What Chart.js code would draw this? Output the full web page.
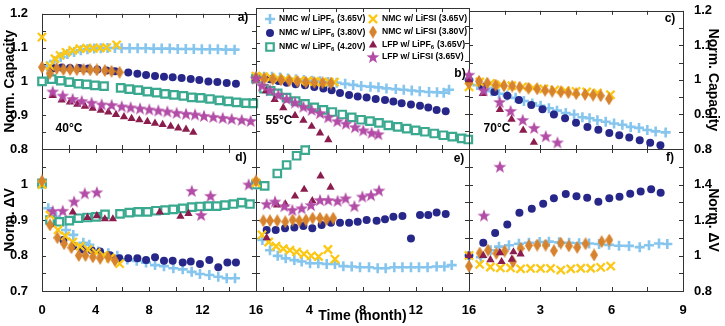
<!DOCTYPE html>
<html>
<head>
<meta charset="utf-8">
<script src="https://cdn.jsdelivr.net/npm/chart.js@4.4.1/dist/chart.umd.min.js"></script>
<style>
  body { margin: 0; background: #fff; }
  #fig { position: relative; width: 725px; height: 326px; overflow: hidden; font-family: "Liberation Sans", Arial, sans-serif; }
  #fig canvas { position: absolute; left: 0; top: 0; }
  .tag { position: absolute; transform: translate(-50%, -50%); font-weight: bold; font-size: 12px; color: #000; white-space: nowrap; }
</style>
</head>
<body>
<div id="fig">
  <canvas id="pa" width="725" height="326"></canvas>
  <canvas id="pb" width="725" height="326"></canvas>
  <canvas id="pc" width="725" height="326"></canvas>
  <canvas id="pd" width="725" height="326"></canvas>
  <canvas id="pe" width="725" height="326"></canvas>
  <canvas id="pf" width="725" height="326"></canvas>
  <div class="tag" style="left:243px;top:17px">a)</div>
  <div class="tag" style="left:460px;top:73px">b)</div>
  <div class="tag" style="left:670px;top:18px">c)</div>
  <div class="tag" style="left:241px;top:157px">d)</div>
  <div class="tag" style="left:459px;top:158px">e)</div>
  <div class="tag" style="left:670px;top:157px">f)</div>
  <div class="tag" style="left:69px;top:128px">40°C</div>
  <div class="tag" style="left:279px;top:120px">55°C</div>
  <div class="tag" style="left:497px;top:128px">70°C</div>
</div>
<script>
// series keys, in legend order
const SERIES = ['pf365', 'pf380', 'pf420', 'fsi365', 'fsi380', 'lfpPF', 'lfpFSI'];
const LABELS = {
  pf365: 'NMC w/ LiPF6 (3.65V)',
  pf380: 'NMC w/ LiPF6 (3.80V)',
  pf420: 'NMC w/ LiPF6 (4.20V)',
  fsi365: 'NMC w/ LiFSI (3.65V)',
  fsi380: 'NMC w/ LiFSI (3.80V)',
  lfpPF: 'LFP w/ LiPF6 (3.65V)',
  lfpFSI: 'LFP w/ LiFSI (3.65V)'
};

// ---- a) capacity, 40°C  [month, value]
const a_pf365 = [[0.4,1.045],[0.9,1.06],[1.4,1.072],[1.9,1.081],[2.4,1.087],[2.9,1.092],[3.4,1.095],[3.9,1.097],[4.4,1.098],[4.9,1.099],[5.45,1.099],[5.95,1.098],[6.55,1.098],[7.15,1.098],[7.75,1.098],[8.35,1.097],[8.95,1.097],[9.55,1.097],[10.15,1.096],[10.75,1.096],[11.35,1.096],[11.95,1.095],[12.55,1.095],[13.15,1.095],[13.75,1.094],[14.4,1.094]];
const a_pf380 = [[0.85,1.039],[1.47,1.041],[2.09,1.04],[2.79,1.04],[3.46,1.038],[4.14,1.035],[4.83,1.032],[5.46,1.03],[6.45,1.026],[7.13,1.023],[7.78,1.019],[8.45,1.016],[9.12,1.014],[9.77,1.012],[10.44,1.01],[11.12,1.007],[11.76,1.004],[12.44,1.0],[13.11,0.998],[13.81,0.995],[14.5,0.993]];
const a_pf420 = [[0,1.0],[0.72,1.007],[1.4,1.002],[2.04,0.998],[2.72,0.993],[3.34,0.991],[3.96,0.988],[4.64,0.986],[5.88,0.981],[6.53,0.977],[7.2,0.974],[7.88,0.97],[8.57,0.967],[9.2,0.963],[9.87,0.96],[10.57,0.957],[11.19,0.953],[11.86,0.951],[12.56,0.948],[13.26,0.944],[13.93,0.941],[14.55,0.938],[15.25,0.936],[15.8,0.935]];
const a_fsi365 = [[0,1.131],[0.6,1.046],[0.97,1.067],[1.35,1.077],[1.8,1.086],[2.3,1.092],[2.84,1.097],[3.34,1.098],[3.84,1.098],[4.34,1.099],[4.84,1.1],[5.58,1.108]];
const a_fsi380 = [[0,1.042],[0.58,1.024],[1.1,1.038],[1.6,1.035],[2.1,1.035],[2.6,1.035],[3.1,1.035],[3.6,1.034],[4.1,1.034],[4.7,1.032],[5.2,1.03],[5.8,1.027]];
const a_lfpPF = [[0.8,0.958],[1.47,0.945],[2.09,0.939],[2.64,0.932],[3.21,0.926],[3.79,0.92],[4.39,0.914],[4.96,0.909],[5.53,0.902],[6.13,0.895],[6.7,0.89],[7.28,0.886],[7.88,0.881],[8.45,0.876],[9.02,0.872],[9.62,0.867],[10.19,0.862],[10.77,0.858],[11.31,0.849]];
const a_lfpFSI = [[0.8,0.97],[1.55,0.958],[2.29,0.948],[2.97,0.942],[3.71,0.937],[4.46,0.932],[5.21,0.93],[5.96,0.926],[6.63,0.923],[7.33,0.92],[8.02,0.917],[8.7,0.914],[9.37,0.911],[10.07,0.907],[10.77,0.904],[11.44,0.902],[12.11,0.898],[12.81,0.895],[13.51,0.892],[14.18,0.889],[14.93,0.886],[15.6,0.883]];

// ---- b) capacity, 55°C
const b_pf365 = [[0,1.005],[0.6,1.005],[1.2,1.005],[1.8,1.003],[2.4,1.0],[3.0,0.998],[3.6,0.996],[4.2,0.994],[4.8,0.992],[5.4,0.99],[6.06,0.988],[6.7,0.985],[7.3,0.982],[7.9,0.979],[8.6,0.977],[9.2,0.975],[9.8,0.972],[10.5,0.97],[11.1,0.968],[11.7,0.966],[12.3,0.964],[13.0,0.962],[13.6,0.961],[14.1,0.96],[14.5,0.968]];
const b_pf380 = [[0,1.0],[1.05,0.998],[1.68,0.993],[2.3,0.988],[2.98,0.984],[3.68,0.981],[4.38,0.976],[5.06,0.972],[5.68,0.967],[6.31,0.959],[6.99,0.953],[7.64,0.949],[8.31,0.946],[8.99,0.942],[9.69,0.939],[10.32,0.935],[10.94,0.93],[11.64,0.926],[12.32,0.923],[12.94,0.918],[13.57,0.911],[14.25,0.907]];
const b_pf420 = [[0,1.0],[0.6,0.971],[1.1,0.965],[1.63,0.958],[2.3,0.946],[2.98,0.936],[3.68,0.928],[4.38,0.918],[5.06,0.911],[5.73,0.905],[6.48,0.898],[7.19,0.89],[7.89,0.883],[8.56,0.879],[9.24,0.874],[9.94,0.867],[10.64,0.863],[11.32,0.858],[11.99,0.853],[12.69,0.849],[13.39,0.844],[14.07,0.839],[14.75,0.835],[15.45,0.83],[15.95,0.827]];
const b_fsi365 = [[0,1.007],[0.55,1.005],[1.1,1.003],[1.65,1.0],[2.2,0.998],[2.75,0.996],[3.3,0.994],[3.85,0.993],[4.4,0.992],[4.95,0.99],[5.5,0.99],[5.9,0.99]];
const b_fsi380 = [[0,1.003],[0.62,1.0],[1.25,0.998],[1.88,0.996],[2.5,0.994],[3.12,0.992],[3.75,0.99],[4.38,0.989],[5.0,0.988],[5.62,0.987]];
const b_lfpPF = [[0,1.0],[0.75,0.965],[1.4,0.94],[2.05,0.917],[2.93,0.895],[3.56,0.881],[4.18,0.864],[4.81,0.845],[5.43,0.826]];
const b_lfpFSI = [[0,1.0],[0.45,0.98],[1.05,0.967],[1.68,0.954],[2.3,0.942],[2.93,0.932],[3.56,0.92],[4.18,0.911],[4.81,0.902],[5.43,0.89],[6.11,0.879],[6.76,0.872],[7.44,0.862],[8.06,0.853],[8.69,0.846],[9.19,0.842]];

// ---- c) capacity, 70°C
const c_pf365 = [[0,1.0],[0.35,0.985],[0.7,0.975],[0.95,0.967],[1.26,0.96],[1.61,0.955],[1.96,0.948],[2.31,0.939],[2.66,0.932],[3.01,0.925],[3.36,0.918],[3.7,0.911],[4.07,0.904],[4.42,0.9],[4.77,0.892],[5.07,0.889],[5.4,0.883],[5.75,0.879],[6.1,0.874],[6.45,0.87],[6.8,0.864],[7.15,0.861],[7.5,0.855],[7.85,0.851],[8.27,0.848]];
const c_pf380 = [[0,1.0],[0.56,0.98],[1.07,0.965],[1.61,0.954],[2.1,0.942],[2.62,0.927],[3.09,0.915],[3.57,0.9],[4.04,0.889],[4.5,0.876],[4.98,0.864],[5.44,0.856],[5.9,0.846],[6.32,0.84],[6.74,0.833],[7.18,0.825],[7.62,0.818],[8.05,0.811]];
const c_fsi365 = [[0,0.98],[0.45,0.994],[0.9,0.99],[1.35,0.986],[1.8,0.983],[2.25,0.98],[2.7,0.977],[3.15,0.974],[3.6,0.971],[4.05,0.969],[4.5,0.967],[4.95,0.965],[5.4,0.962],[5.95,0.957]];
const c_fsi380 = [[0,0.99],[0.42,0.996],[0.77,0.991],[1.12,0.985],[1.47,0.983],[1.82,0.982],[2.13,0.979],[2.5,0.976],[2.87,0.974],[3.2,0.97],[3.5,0.967],[3.86,0.965],[4.18,0.963],[4.51,0.96],[4.88,0.958],[5.22,0.956],[5.54,0.954],[5.89,0.945]];
const c_lfpPF = [[0,1.0],[0.58,0.96],[1.3,0.914],[1.79,0.886],[2.28,0.854],[2.73,0.819]];
const c_lfpFSI = [[0,1.015],[0.62,0.97],[1.29,0.936],[1.75,0.91],[2.26,0.884],[2.74,0.861],[3.23,0.837],[3.72,0.819]];

// ---- d) ΔV, 40°C
const d_pf365 = [[0,1.0],[0.47,0.933],[1.05,0.909],[1.79,0.872],[2.34,0.858],[3.09,0.836],[3.54,0.83],[4.21,0.811],[4.96,0.806],[5.63,0.799],[6.38,0.789],[7.08,0.785],[7.78,0.78],[8.45,0.773],[9.12,0.77],[9.82,0.764],[10.52,0.761],[11.19,0.754],[11.81,0.748],[12.51,0.745],[13.18,0.74],[13.81,0.736],[14.43,0.736]];
const d_pf380 = [[0.72,0.891],[1.6,0.844],[2.34,0.827],[3.04,0.817],[3.71,0.815],[4.34,0.811],[5.08,0.801],[5.78,0.792],[6.45,0.792],[7.13,0.792],[7.78,0.787],[8.45,0.795],[9.12,0.785],[9.77,0.785],[10.52,0.78],[11.12,0.783],[11.81,0.776],[12.51,0.787],[13.18,0.767],[13.86,0.78],[14.5,0.78]];
const d_pf420 = [[0,1.003],[0.6,0.9],[1.3,0.895],[2.04,0.898],[2.72,0.905],[3.39,0.907],[4.04,0.909],[4.71,0.916],[5.83,0.917],[6.53,0.921],[7.2,0.923],[7.88,0.923],[8.52,0.926],[9.2,0.928],[9.82,0.93],[10.52,0.933],[11.19,0.936],[11.81,0.938],[12.44,0.939],[13.06,0.939],[13.68,0.942],[14.31,0.945],[14.93,0.949],[15.55,0.945]];
const d_fsi365 = [[0,1.0],[0.6,0.914],[1.2,0.872],[1.75,0.855],[2.3,0.838],[2.85,0.826],[3.45,0.817],[4.05,0.808],[4.6,0.8],[5.1,0.793],[5.8,0.777]];
const d_fsi380 = [[0,1.01],[0.6,0.886],[1.15,0.85],[1.65,0.833],[2.2,0.822],[2.75,0.8],[3.25,0.8],[3.8,0.796],[4.35,0.792],[4.95,0.795],[5.45,0.786]];
const d_lfpPF = [[2.3,0.922],[3.4,0.907],[4.1,0.912],[4.7,0.903],[5.3,0.903],[8.8,0.922],[10.35,0.91],[10.95,0.918]];
const d_lfpFSI = [[0.8,0.925],[1.55,0.926],[2.4,0.952],[3.2,0.975],[4.1,0.978],[11.2,0.982],[11.9,0.914],[12.6,0.968],[15.45,1.0]];

// ---- e) ΔV, 55°C
const e_pf365 = [[0,1.0],[0.48,0.844],[1.05,0.815],[1.63,0.799],[2.23,0.792],[2.88,0.787],[3.43,0.783],[4.06,0.778],[4.68,0.778],[5.31,0.776],[5.93,0.776],[6.56,0.77],[7.19,0.769],[7.81,0.767],[8.49,0.767],[9.14,0.764],[9.74,0.764],[10.39,0.767],[11.0,0.767],[11.64,0.767],[12.24,0.767],[12.89,0.767],[13.57,0.769],[14.15,0.769],[14.7,0.773]];
const e_pf380 = [[0,1.0],[0.8,0.872],[1.48,0.872],[2.18,0.877],[2.88,0.879],[3.56,0.883],[4.23,0.877],[4.93,0.886],[5.63,0.892],[6.31,0.892],[6.99,0.892],[7.64,0.895],[8.31,0.9],[9.06,0.898],[9.69,0.902],[10.32,0.909],[11.0,0.911],[11.64,0.848],[12.32,0.914],[12.94,0.914],[13.57,0.921],[14.25,0.917]];
const e_pf420 = [[0,1.0],[0.65,0.996],[1.6,1.031],[2.3,1.055],[3.05,1.081],[3.7,1.097]];
const e_fsi365 = [[0,1.005],[0.45,0.858],[0.95,0.838],[1.5,0.826],[2.05,0.819],[2.55,0.815],[3.05,0.81],[3.6,0.804],[4.15,0.799],[4.7,0.797],[5.4,0.817],[5.93,0.79]];
const e_fsi380 = [[0,1.01],[0.55,0.898],[1.05,0.898],[1.6,0.898],[2.2,0.895],[2.75,0.9],[3.25,0.898],[3.75,0.9],[4.25,0.905],[4.8,0.905],[5.3,0.902],[5.8,0.905]];
const e_lfpPF = [[0.8,0.85],[1.58,0.942],[2.2,0.945],[2.93,0.967],[3.62,0.986],[4.23,0.954],[4.85,1.024],[5.6,0.992]];
const e_lfpFSI = [[0.8,0.945],[1.43,0.952],[2.13,0.939],[2.73,0.928],[3.43,0.933],[4.13,0.942],[4.81,0.956],[5.43,0.956],[6.13,0.954],[6.73,0.961],[7.39,0.939],[7.99,0.966],[8.64,0.97],[9.24,0.983]];

// ---- f) ΔV, 70°C
const f_pf365 = [[0,1.0],[0.5,0.99],[0.91,1.03],[1.26,1.05],[1.68,1.058],[2.1,1.066],[2.52,1.072],[2.97,1.076],[3.36,1.078],[3.79,1.074],[4.21,1.072],[4.63,1.069],[5.05,1.068],[5.47,1.065],[5.89,1.06],[6.31,1.055],[6.73,1.054],[7.18,1.047],[7.57,1.058],[7.99,1.068],[8.34,1.065]];
const f_pf380 = [[0,1.0],[0.6,1.072],[1.1,1.127],[1.61,1.175],[2.12,1.241],[2.64,1.263],[3.12,1.292],[3.57,1.322],[4.07,1.346],[4.52,1.334],[4.97,1.325],[5.44,1.303],[5.9,1.322],[6.33,1.331],[6.78,1.348],[7.22,1.36],[7.66,1.373],[8.06,1.354]];
const f_fsi365 = [[0,1.0],[0.45,0.95],[0.9,0.935],[1.32,0.93],[1.75,0.93],[2.17,0.925],[2.59,0.927],[3.01,0.927],[3.43,0.927],[3.86,0.918],[4.28,0.925],[4.7,0.928],[5.12,0.928],[5.54,0.933],[5.96,0.94]];
const f_fsi380 = [[0,0.94],[0.45,1.014],[0.8,1.03],[1.15,1.012],[1.5,1.025],[1.85,0.965],[2.17,1.04],[2.52,1.056],[2.87,1.059],[3.22,1.059],[3.57,1.027],[3.86,1.07],[4.2,1.054],[4.55,1.046],[4.9,1.066],[5.26,1.003],[5.58,1.078],[5.9,1.087]];
const f_lfpPF = [[0,1.0],[0.6,1.0],[0.9,0.976],[1.3,1.015],[1.37,0.965],[1.8,0.978],[1.87,1.02],[2.17,1.008]];
const f_lfpFSI = [[0.63,1.225],[1.3,1.5]];

// ---- markers
function diamondImg(color) {
  const c = document.createElement('canvas');
  c.width = 8; c.height = 13;
  const g = c.getContext('2d');
  g.fillStyle = color;
  g.beginPath();
  g.moveTo(4, 0); g.lineTo(8, 6.5); g.lineTo(4, 13); g.lineTo(0, 6.5);
  g.closePath(); g.fill();
  return c;
}
function starImg(color) {
  const c = document.createElement('canvas');
  c.width = 14; c.height = 14;
  const g = c.getContext('2d');
  g.fillStyle = color;
  g.beginPath();
  for (let i = 0; i < 10; i++) {
    const r = i % 2 ? 2.8 : 6.8;
    const a = -Math.PI / 2 + i * Math.PI / 5;
    g.lineTo(7 + r * Math.cos(a), 7.5 + r * Math.sin(a));
  }
  g.closePath(); g.fill();
  return c;
}

const STYLE = {
  pf365:  { pointStyle: 'cross', r: 5, bw: 2.6, color: '#86c6ee', order: 7 },
  pf380:  { pointStyle: 'circle', r: 4, bw: 0, color: '#27278a', order: 6 },
  pf420:  { pointStyle: 'rect', r: 5.3, bw: 2.2, color: '#3aa98f', fill: '#fff', order: 5 },
  fsi365: { pointStyle: 'crossRot', r: 5.8, bw: 2.3, color: '#fcc813', order: 4 },
  fsi380: { pointStyle: diamondImg('#d7822d'), r: 5, bw: 0, color: '#d7822d', order: 3 },
  lfpPF:  { pointStyle: 'triangle', r: 4.8, bw: 0, color: '#8b1d4e', order: 2 },
  lfpFSI: { pointStyle: starImg('#b24ca6'), r: 5, bw: 0, color: '#b24ca6', order: 1 }
};

const PANELS = [
  { id: 'pa', area: [42, 6, 256, 149],
    data: { pf365: a_pf365, pf380: a_pf380, pf420: a_pf420, fsi365: a_fsi365, fsi380: a_fsi380, lfpPF: a_lfpPF, lfpFSI: a_lfpFSI },
    x: { max: 16, step: 2, every: 4, show: false },
    y: { min: 0.8, max: 1.2, step: 0.05, every: 0.1, side: 'left', title: 'Norm. Capacity', skip: [] } },
  { id: 'pb', area: [256, 6, 469, 149], legend: true,
    data: { pf365: b_pf365, pf380: b_pf380, pf420: b_pf420, fsi365: b_fsi365, fsi380: b_fsi380, lfpPF: b_lfpPF, lfpFSI: b_lfpFSI },
    x: { max: 16, step: 2, every: 4, show: false },
    y: { min: 0.8, max: 1.2, step: 0.05, every: 0.1, side: 'none', skip: [] } },
  { id: 'pc', area: [469, 6, 683, 149],
    data: { pf365: c_pf365, pf380: c_pf380, fsi365: c_fsi365, fsi380: c_fsi380, lfpPF: c_lfpPF, lfpFSI: c_lfpFSI },
    x: { max: 9, step: 1.5, every: 3, show: false },
    y: { min: 0.8, max: 1.2, step: 0.05, every: 0.1, side: 'right', title: 'Norm. Capacity', skip: [] } },
  { id: 'pd', area: [42, 149, 256, 291],
    data: { pf365: d_pf365, pf380: d_pf380, pf420: d_pf420, fsi365: d_fsi365, fsi380: d_fsi380, lfpPF: d_lfpPF, lfpFSI: d_lfpFSI },
    x: { max: 16, step: 2, every: 4, show: true, skipZero: false },
    y: { min: 0.7, max: 1.1, step: 0.05, every: 0.1, side: 'left', title: 'Norm. ΔV', skip: [1.1] } },
  { id: 'pe', area: [256, 149, 469, 291],
    data: { pf365: e_pf365, pf380: e_pf380, pf420: e_pf420, fsi365: e_fsi365, fsi380: e_fsi380, lfpPF: e_lfpPF, lfpFSI: e_lfpFSI },
    x: { max: 16, step: 2, every: 4, show: true, skipZero: true, title: 'Time (month)' },
    y: { min: 0.7, max: 1.1, step: 0.05, every: 0.1, side: 'none', skip: [] } },
  { id: 'pf', area: [469, 149, 683, 291],
    data: { pf365: f_pf365, pf380: f_pf380, fsi365: f_fsi365, fsi380: f_fsi380, lfpPF: f_lfpPF, lfpFSI: f_lfpFSI },
    x: { max: 9, step: 1.5, every: 3, show: true, skipZero: true },
    y: { min: 0.8, max: 1.6, step: 0.1, every: 0.2, side: 'right', title: 'Norm. ΔV', skip: [1.6] } }
];

// legend slots inside panel b: [key, markerX, markerY, textX]
const KEY_SLOTS = [
  ['pf365', 270, 19, 279], ['pf380', 270, 33, 279], ['pf420', 270, 47, 279],
  ['fsi365', 373, 19, 382], ['fsi380', 373, 32, 382], ['lfpPF', 373, 45, 382], ['lfpFSI', 373, 57, 382]
];

Chart.defaults.font.family = '"Liberation Sans", Arial, sans-serif';
Chart.defaults.font.weight = 'bold';
Chart.defaults.font.size = 13;
Chart.defaults.color = '#000';

const isMult = (v, m) => Math.abs(v / m - Math.round(v / m)) < 1e-6;
const fmt = v => String(+v.toFixed(2));

// frame + inward tick marks on all four sides
const framePlugin = {
  id: 'frame',
  beforeDatasetsDraw(chart) {
    const { ctx, chartArea: { left, right, top, bottom }, scales: { x, y } } = chart;
    ctx.save();
    ctx.strokeStyle = '#333';
    ctx.lineWidth = 1;
    ctx.strokeRect(Math.round(left) + 0.5, Math.round(top) + 0.5, Math.round(right - left), Math.round(bottom - top));
    ctx.beginPath();
    x.ticks.forEach(t => {
      const px = Math.round(x.getPixelForValue(t.value)) + 0.5;
      ctx.moveTo(px, bottom); ctx.lineTo(px, bottom - 4);
      ctx.moveTo(px, top); ctx.lineTo(px, top + 4);
    });
    y.ticks.forEach(t => {
      const py = Math.round(y.getPixelForValue(t.value)) + 0.5;
      ctx.moveTo(left, py); ctx.lineTo(left + 4, py);
      ctx.moveTo(right, py); ctx.lineTo(right - 4, py);
    });
    ctx.stroke();
    ctx.restore();
  }
};

function drawLabel(ctx, text, x, y) {
  const parts = text.split('PF6');
  if (parts.length === 2) {
    const head = parts[0] + 'PF';
    ctx.fillText(head, x, y);
    x += ctx.measureText(head).width;
    const font = ctx.font;
    ctx.font = 'bold 6px "Liberation Sans", Arial, sans-serif';
    ctx.fillText('6', x, y + 2.5);
    x += ctx.measureText('6').width + 0.5;
    ctx.font = font;
    ctx.fillText(parts[1], x, y);
  } else {
    ctx.fillText(text, x, y);
  }
}

const keyPlugin = {
  id: 'key',
  afterDraw(chart) {
    const ctx = chart.ctx;
    ctx.save();
    ctx.font = 'bold 8.6px "Liberation Sans", Arial, sans-serif';
    ctx.textBaseline = 'middle';
    KEY_SLOTS.forEach(([k, mx, my, tx]) => {
      const s = STYLE[k];
      ctx.save();
      ctx.fillStyle = s.fill || s.color;
      ctx.strokeStyle = s.color;
      ctx.lineWidth = s.bw;
      Chart.helpers.drawPoint(ctx, { pointStyle: s.pointStyle, radius: s.r, rotation: 0, borderWidth: s.bw }, mx, my);
      ctx.restore();
      ctx.fillStyle = '#000';
      drawLabel(ctx, LABELS[k], tx, my);
    });
    ctx.restore();
  }
};

function build(p) {
  const [l, t, r, b] = p.area;
  const wl = p.y.side === 'left' ? l : 0;
  const wr = p.y.side === 'right' ? 725 - r : 0;
  const hb = p.x.show ? 326 - b : 0;

  const datasets = SERIES.filter(k => p.data[k]).map(k => {
    const s = STYLE[k];
    return {
      label: LABELS[k],
      data: p.data[k].map(([x, y]) => ({ x, y })),
      pointStyle: s.pointStyle,
      pointRadius: s.r,
      pointHoverRadius: s.r,
      pointBorderWidth: s.bw,
      pointBorderColor: s.color,
      pointBackgroundColor: s.fill || s.color,
      showLine: false,
      clip: false,
      order: s.order
    };
  });

  new Chart(document.getElementById(p.id), {
    type: 'scatter',
    data: { datasets },
    plugins: p.legend ? [framePlugin, keyPlugin] : [framePlugin],
    options: {
      responsive: false,
      animation: false,
      events: [],
      layout: { padding: { left: l - wl, right: 725 - r - wr, top: t, bottom: 326 - b - hb } },
      plugins: { legend: { display: false }, tooltip: { enabled: false } },
      scales: {
        x: {
          type: 'linear', position: 'bottom', min: 0, max: p.x.max,
          grid: { display: false }, border: { display: false },
          ticks: {
            display: p.x.show, stepSize: p.x.step, autoSkip: false, maxRotation: 0, padding: 4,
            callback: v => (isMult(v, p.x.every) && !(p.x.skipZero && v === 0)) ? fmt(v) : ''
          },
          title: { display: !!p.x.title, text: p.x.title || '', font: { size: 14 }, padding: { top: 0, bottom: 1 } },
          afterFit: s => { s.height = hb; }
        },
        y: {
          type: 'linear', position: p.y.side === 'right' ? 'right' : 'left', min: p.y.min, max: p.y.max,
          grid: { display: false }, border: { display: false },
          ticks: {
            display: p.y.side !== 'none', stepSize: p.y.step, autoSkip: false, padding: p.y.side === 'right' ? 3 : 6,
            callback: v => (isMult(v, p.y.every) && !p.y.skip.some(s => Math.abs(s - v) < 1e-6)) ? fmt(v) : ''
          },
          title: { display: !!p.y.title, text: p.y.title || '', font: { size: 14 }, padding: { top: p.y.side === 'right' ? 4 : 2, bottom: 0 } },
          afterFit: s => { s.width = p.y.side === 'left' ? wl : wr; }
        }
      }
    }
  });
}

PANELS.forEach(build);
</script>
</body>
</html>
